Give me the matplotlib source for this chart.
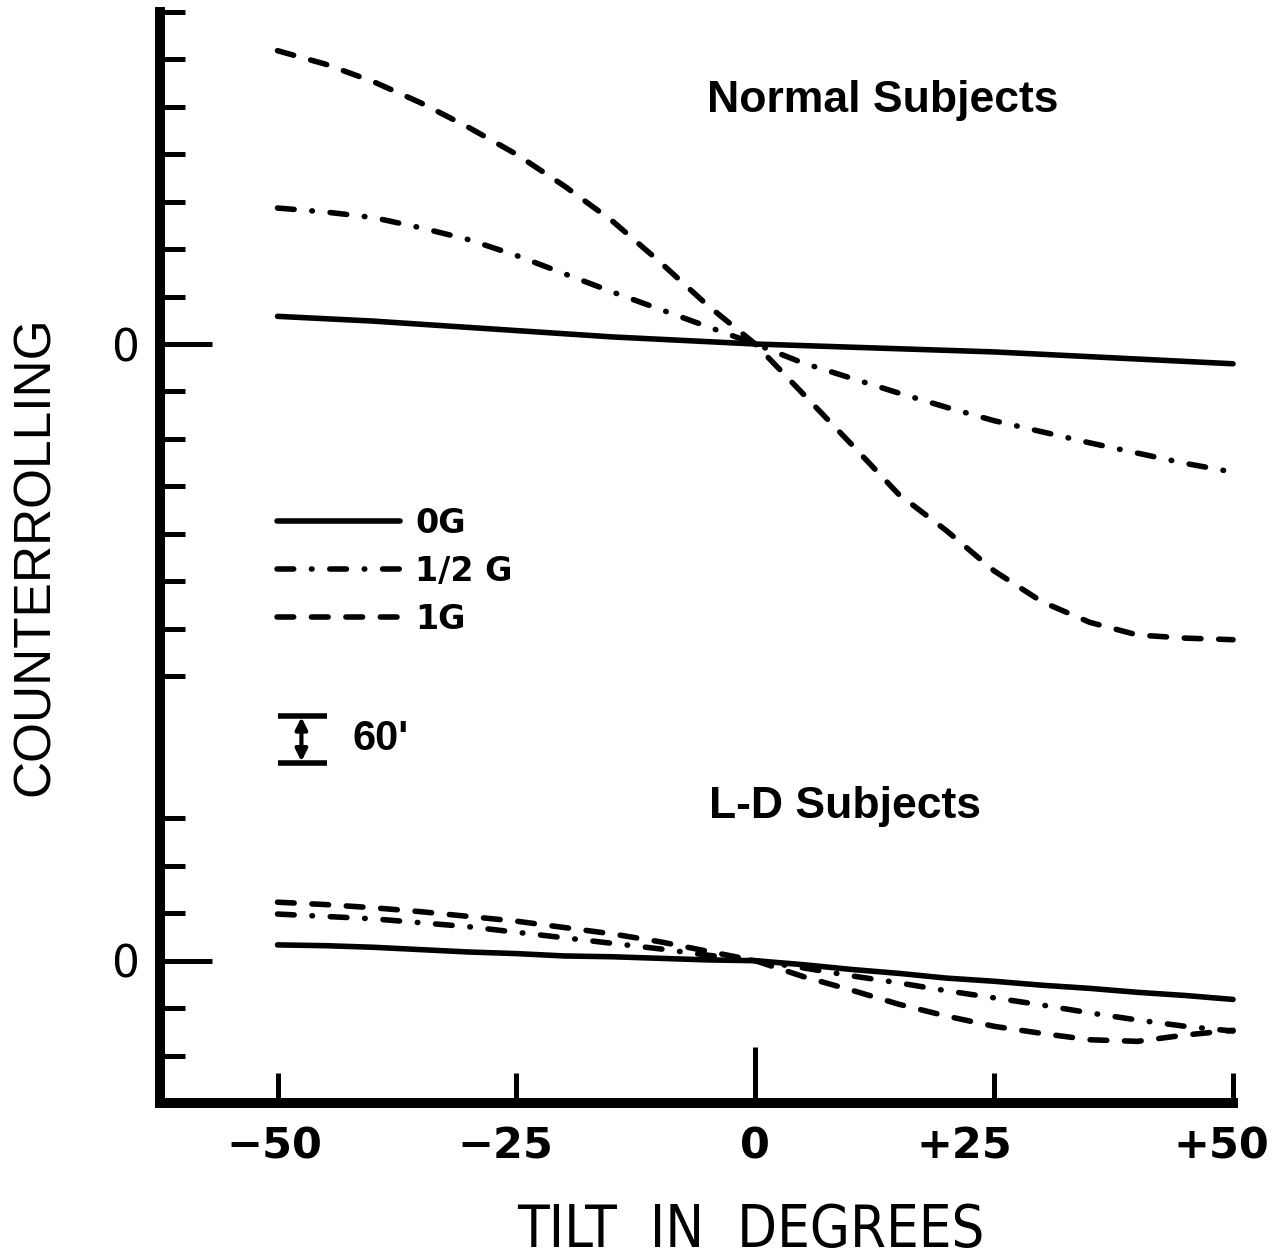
import numpy as np
import matplotlib
matplotlib.use('Agg')
import matplotlib.pyplot as plt
from matplotlib.transforms import ScaledTranslation

# tilt angle (deg) and counterrolling (minutes of arc)
tilt = [-50, -45, -40, -35, -30, -25, -20, -15, -10, -5, 0,
        5, 10, 15, 20, 25, 30, 35, 40, 45, 50]

normal_0g = [35, 32, 29, 25, 21, 17, 13, 9, 6, 3, 0,
             -2, -4, -6, -8, -10, -13, -16, -19, -22, -25]
normal_half_g = [172, 167, 160, 147, 132, 112, 89, 66, 44, 22, 0,
                 -24, -43, -62, -80, -97, -111, -125, -138, -151, -162]
normal_1g = [371, 354, 332, 305, 274, 240, 200, 156, 104, 49, 0,
             -63, -126, -190, -236, -287, -326, -352, -368, -372, -374]

ld_0g = [20, 19, 17, 14, 11, 9, 6, 5, 3, 1, 0,
         -5, -11, -16, -22, -26, -31, -35, -40, -44, -49]
ld_half_g = [59, 56, 53, 48, 43, 36, 29, 22, 15, 7, 0,
             -9, -19, -28, -38, -47, -56, -66, -75, -83, -89]
ld_1g = [74, 71, 67, 62, 56, 50, 42, 34, 24, 12, 0,
         -20, -37, -55, -70, -83, -92, -100, -102, -94, -88]

normal_offset = 780  # the "Normal Subjects" curves sit higher on the page
legend_labels = ['0G', '1/2 G', '1G']
xtick_vals = [-50, -25, 0, 25, 50]
xtick_labels = ['\u221250', '\u221225', '0', '+25', '+50']

plt.rcParams['font.family'] = ['DejaVu Sans']

fig = plt.figure(figsize=(12.82, 12.58), dpi=100)
ax = fig.add_axes([0.1248, 0.1232, 0.8370, 0.8673])

solid = '-'
dashdot = (0, (3, 3.2, 0.1, 3.2))
dashed = (0, (3, 3.2))
kw = dict(color='black', lw=4, clip_on=False,
          dash_capstyle='round', solid_capstyle='round')

x = np.array(tilt)
h0, = ax.plot(x, np.array(normal_0g) + normal_offset, ls=solid, **kw)
h1, = ax.plot(x, np.array(normal_half_g) + normal_offset, ls=dashdot, **kw)
h2, = ax.plot(x, np.array(normal_1g) + normal_offset, ls=dashed, **kw)
ax.plot(x, ld_0g, ls=solid, **kw)
ax.plot(x, ld_half_g, ls=dashdot, **kw)
ax.plot(x, ld_1g, ls=dashed, **kw)

ax.set_xlim(-62.3, 50)
ax.set_ylim(-180, 1200)

# axes: only left and bottom, heavy ink
for s in ['top', 'right']:
    ax.spines[s].set_visible(False)
for s in ['left', 'bottom']:
    ax.spines[s].set_linewidth(7.2)
    ax.spines[s].set_capstyle('projecting')

ax.set_xticks(xtick_vals, xtick_labels)
ytick_pos = [v for v in range(-120, 1201, 60) if v not in (240, 300)]
ytick_lab = ['0' if v in (0, normal_offset) else '' for v in ytick_pos]
ax.set_yticks(ytick_pos, ytick_lab)

ax.tick_params(axis='x', direction='in', length=21.5, width=3.6, pad=16,
               labelsize=31)
ax.tick_params(axis='y', direction='in', length=18, width=3.6, pad=15,
               labelsize=31.5)
for lab in ax.get_xticklabels():
    lab.set_fontweight('bold')

for t, v in zip(ax.xaxis.get_major_ticks(), xtick_vals):
    if v == 0:
        t.tick1line.set_markersize(40)
for t, v in zip(ax.yaxis.get_major_ticks(), ytick_pos):
    if v in (0, normal_offset):
        t.tick1line.set_markersize(37.5)

# hand lettered labels sit a little off their ticks
shifts = [-3, -11, 0, -30, -12]
for lab, dx in zip(ax.get_xticklabels(), shifts):
    lab.set_transform(lab.get_transform() +
                      ScaledTranslation(dx / 100, 0, fig.dpi_scale_trans))

# legend
ax.legend([h0, h1, h2], legend_labels, loc='center left',
          bbox_to_anchor=(0.109, 0.487), frameon=False,
          prop=dict(family='DejaVu Sans', weight='bold', size=24),
          handlelength=3.7, handletextpad=0.45, labelspacing=0.45,
          borderpad=0, borderaxespad=0)

# 60 minute scale bar
ax.hlines([250, 310], -50, -44.8, colors='black', lw=4)
ax.annotate('', xy=(-47.5, 252), xytext=(-47.5, 308),
            arrowprops=dict(arrowstyle='<|-|>,head_length=0.7,head_width=0.35',
                            color='black', lw=3, shrinkA=0, shrinkB=0))
ax.text(-42.2, 280, "60'", va='center', ha='left', fontsize=30,
        family='Liberation Sans', weight='bold')

ax.text(13.3, 1073, 'Normal Subjects', ha='center', va='baseline',
        fontsize=32, family='Liberation Sans', weight='bold')
ax.text(9.4, 181, 'L-D Subjects', ha='center', va='baseline',
        fontsize=32, family='Liberation Sans', weight='bold')

fig.text(35 / 1282, 1 - 556 / 1258, 'COUNTERROLLING', rotation=90,
         ha='center', va='center', fontsize=37, family='Liberation Sans')
fig.text(751 / 1282, 1 - 1247 / 1258, 'TILT  IN  DEGREES', ha='center',
         va='baseline', fontsize=41.5, family='DejaVu Sans',
         fontstretch='condensed')

fig.savefig('out.png', dpi=100)
